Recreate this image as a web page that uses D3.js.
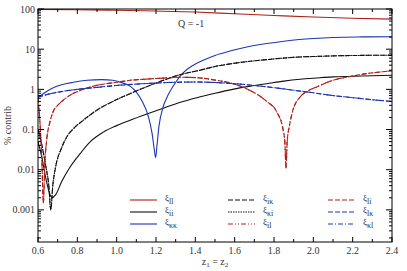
<!DOCTYPE html>
<html><head><meta charset="utf-8">
<script src="https://cdnjs.cloudflare.com/ajax/libs/d3/7.8.5/d3.min.js"></script>
<style>body{margin:0;background:#fff}svg{display:block}</style>
</head><body><svg id="c" width="407" height="271"></svg>
<script>
// ---- data ----
const xTicks = [0.6,0.8,1.0,1.2,1.4,1.6,1.8,2.0,2.2,2.4];
const yTicks = [100,10,1,0.1,0.01,0.001];
const yTickLabels = ["100","10","1","0.1","0.01","0.001"];

const llX = [0.6,0.8,1.0,1.2,1.4,1.6,1.8,2.0,2.2,2.4];
const llV = [98,96,93,89,84,76,69,63,59,56];

const iiX = [0.6,0.62,0.64,0.66,0.67,0.69,0.72,0.76,0.814,0.87,0.93,1.0,1.068,1.15,1.237,1.32,1.407,1.5,1.59,1.68,1.763,1.85,1.932,2.02,2.1,2.25,2.4];
const iiV = [0.05,0.02,0.006,0.0025,0.002,0.0024,0.005,0.011,0.025,0.052,0.085,0.125,0.17,0.24,0.34,0.47,0.62,0.8,1.0,1.2,1.38,1.6,1.78,1.92,2.04,2.15,2.24];

const kkX = [0.6,0.63,0.67,0.72,0.78,0.85,0.924,0.98,1.03,1.068,1.1,1.13,1.16,1.18,1.192,1.198,1.205,1.215,1.235,1.26,1.3,1.339,1.39,1.44,1.5,1.576,1.65,1.763,1.85,1.929,2.0,2.1,2.25,2.4];
const kkV = [0.62,0.8,1.05,1.3,1.5,1.68,1.75,1.68,1.45,1.2,0.85,0.5,0.22,0.08,0.03,0.02,0.04,0.12,0.35,0.7,1.5,2.6,4.0,5.3,7.0,9.0,11,13.8,15.8,17.4,18.5,19.6,20.2,20.4];

const ikX = [0.6,0.62,0.64,0.655,0.665,0.675,0.69,0.72,0.75,0.78,0.83,0.898,0.98,1.068,1.15,1.237,1.32,1.424,1.5,1.59,1.68,1.763,1.85,1.932,2.02,2.1,2.25,2.4];
const ikV = [0.1,0.04,0.012,0.004,0.001,0.004,0.012,0.035,0.07,0.105,0.17,0.3,0.5,0.78,1.15,1.68,2.3,3.0,3.7,4.4,5.0,5.5,6.0,6.4,6.6,6.8,7.0,7.1];

const ilX = [0.6,0.61,0.62,0.627,0.635,0.645,0.66,0.68,0.7,0.727,0.77,0.814,0.9,1.0,1.068,1.15,1.235,1.322,1.407,1.5,1.591,1.678,1.72,1.763,1.813,1.846,1.855,1.861,1.867,1.878,1.896,1.932,1.97,2.017,2.1,2.18,2.271,2.34,2.4];
const ilV = [0.6,0.15,0.015,0.0015,0.015,0.06,0.15,0.3,0.4,0.53,0.75,0.94,1.26,1.5,1.68,1.8,1.9,2.0,1.95,1.7,1.38,0.94,0.72,0.5,0.28,0.1,0.05,0.011,0.05,0.12,0.3,0.64,0.9,1.15,1.68,2.05,2.46,2.7,2.9];

const lkX = [0.6,0.7,0.8,0.9,1.0,1.1,1.2,1.3,1.4,1.5,1.6,1.7,1.8,1.9,2.0,2.1,2.2,2.3,2.4];
const lkV = [0.65,0.85,1.0,1.12,1.25,1.35,1.44,1.5,1.52,1.48,1.38,1.25,1.1,0.95,0.82,0.7,0.62,0.55,0.5];

const legendNames = [["ll","ii","κκ"],["iκ","κi","il"],["li","lκ","κl"]];

// ---- styles ----
const FONT = "'Liberation Serif','DejaVu Serif',serif";
const TXT = "#333";
const RED = "#b0201a", BLK = "#111", BLU = "#1a35b5";
const series = [
  {x:llX, v:llV, c:RED, d:null},
  {x:iiX, v:iiV, c:BLK, d:null},
  {x:kkX, v:kkV, c:BLU, d:null},
  {x:ikX, v:ikV, c:BLK, d:"5,2"},
  {x:ikX, v:ikV, c:BLK, d:"1.5,1"},
  {x:ilX, v:ilV, c:RED, d:"5,2,1,2,1,2"},
  {x:ilX, v:ilV, c:RED, d:"5,2"},
  {x:lkX, v:lkV, c:BLU, d:"5,2"},
  {x:lkX, v:lkV, c:BLU, d:"5,2,1,2"}
];
const legendStyle = [
  [[RED,null],[BLK,null],[BLU,null]],
  [[BLK,"5,2"],[BLK,"1.5,1"],[RED,"5,2,1,2,1,2"]],
  [[RED,"5,2"],[BLU,"5,2"],[BLU,"5,2,1,2"]]
];

const L=38, R=392, T=9, B=242;
const svg = d3.select("#c").attr("font-family",FONT);
const x = d3.scaleLinear().domain([0.6,2.4]).range([L,R]);
const y = d3.scaleLog().domain([Math.pow(10,-3.8),100]).range([B,T]);

svg.append("defs").append("clipPath").attr("id","clip")
  .append("rect").attr("x",L).attr("y",T).attr("width",R-L).attr("height",B-T);

const g = svg.append("g").attr("clip-path","url(#clip)");
const line = d3.line().curve(d3.curveMonotoneX);
series.forEach(s=>{
  const pts = s.x.map((xv,i)=>[x(xv), y(s.v[i])]);
  g.append("path").attr("d",line(pts)).attr("fill","none")
   .attr("stroke",s.c).attr("stroke-width",1.1)
   .attr("stroke-dasharray",s.d);
});

// frame
svg.append("rect").attr("x",L).attr("y",T).attr("width",R-L).attr("height",B-T)
  .attr("fill","none").attr("stroke","#000").attr("stroke-width",1);

// x ticks
const minorX = d3.range(6,25).map(d=>d/10);
const ax = svg.append("g").attr("stroke","#000").attr("stroke-width",1);
minorX.forEach(v=>{
  const major = xTicks.some(t=>Math.abs(t-v)<1e-6);
  const len = major?5:3;
  ax.append("line").attr("x1",x(v)).attr("x2",x(v)).attr("y1",B).attr("y2",B-len);
  ax.append("line").attr("x1",x(v)).attr("x2",x(v)).attr("y1",T).attr("y2",T+len);
});
svg.append("g").selectAll("text").data(xTicks).join("text")
  .attr("x",d=>x(d)).attr("y",B+12).attr("text-anchor","middle").attr("fill",TXT)
  .attr("font-family",FONT).attr("font-size",10).text(d=>d.toFixed(1));

// y ticks
const minorY = [];
for (let e=-4;e<=1;e++) for (let m=1;m<=9;m++){const v=m*Math.pow(10,e); if(v>=Math.pow(10,-3.8)&&v<=100) minorY.push([v,m===1]);}
minorY.push([100,true]);
minorY.forEach(([v,major])=>{
  const len = major?6:3;
  ax.append("line").attr("x1",L).attr("x2",L+len).attr("y1",y(v)).attr("y2",y(v));
  ax.append("line").attr("x1",R).attr("x2",R-len).attr("y1",y(v)).attr("y2",y(v));
});
svg.append("g").selectAll("text").data(yTicks).join("text")
  .attr("x",L-3).attr("y",d=>y(d)+3.5).attr("text-anchor","end").attr("fill",TXT)
  .attr("font-family",FONT).attr("font-size",10).text((d,i)=>yTickLabels[i]);

// axis titles
svg.append("text").attr("transform",`translate(11,${(T+B)/2}) rotate(-90)`)
  .attr("text-anchor","middle").attr("font-size",10).attr("fill",TXT).attr("font-family",FONT).text("% contrib");
const xt = svg.append("text").attr("x",(L+R)/2).attr("y",265).attr("text-anchor","middle")
  .attr("font-size",10).attr("fill",TXT).attr("font-family",FONT);
xt.append("tspan").text("z");
xt.append("tspan").attr("font-size",7).attr("dy",2).text("1");
xt.append("tspan").attr("dy",-2).text(" = z");
xt.append("tspan").attr("font-size",7).attr("dy",2).text("2");

// annotation
svg.append("text").attr("x",178).attr("y",27).attr("font-size",10).attr("fill",TXT)
  .attr("font-family",FONT).text("Q = -1");

// legend
const colX = [130,228,328], rowY = [200,212,224];
legendNames.forEach((col,ci)=>col.forEach((nm,ri)=>{
  const [c,d] = legendStyle[ci][ri];
  svg.append("line").attr("x1",colX[ci]).attr("x2",colX[ci]+27).attr("y1",rowY[ri]).attr("y2",rowY[ri])
    .attr("stroke",c).attr("stroke-width",1.1).attr("stroke-dasharray",d);
  const t = svg.append("text").attr("x",colX[ci]+35).attr("y",rowY[ri]+1)
    .attr("font-size",9).attr("fill",TXT).attr("font-family",FONT);
  t.append("tspan").text("ξ");
  t.append("tspan").attr("font-size",8).attr("dy",3).text(nm);
}));
</script></body></html>
